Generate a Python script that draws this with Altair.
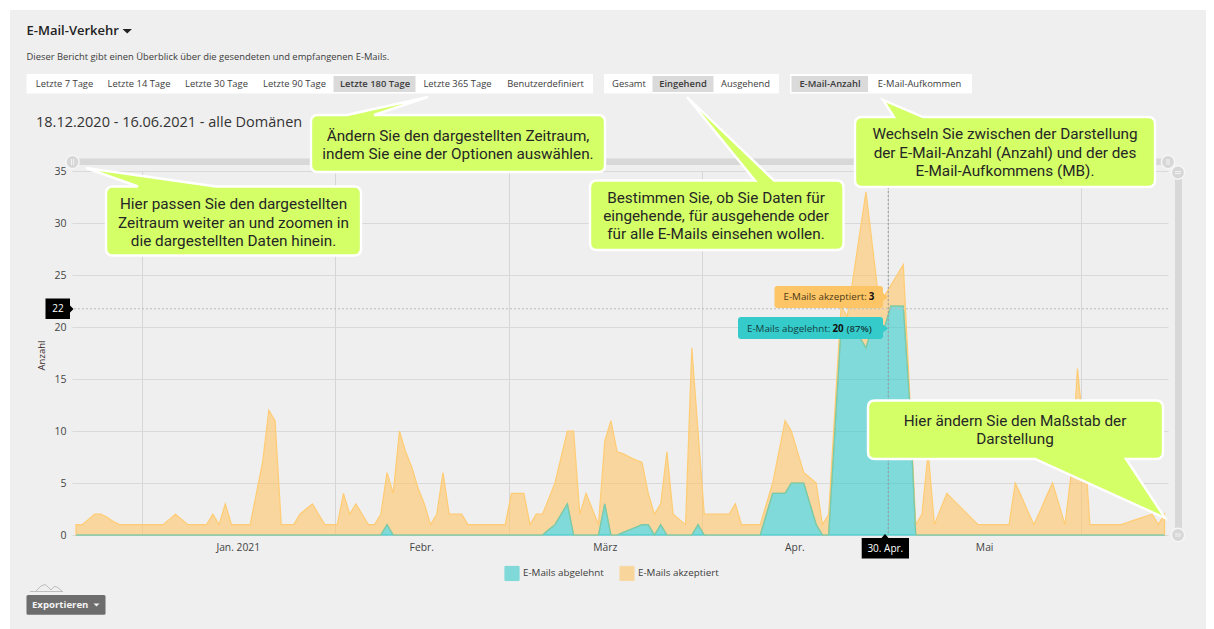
import altair as alt
import pandas as pd

# ---------- chart values ----------
erster_tag = "2020-12-21T10:00:00"
gesamt = [
    1, 1, 1.5, 2, 2, 1.7, 1.3, 1, 1, 1, 1, 1, 1, 1, 1, 1.5, 2, 1.5, 1, 1,
    1, 1, 2, 1, 3, 1, 1, 1, 1, 4, 7, 12, 11, 1, 1, 1, 2, 2.5, 3, 2,
    1, 1, 1, 4, 2, 3, 2, 1, 1, 2, 6, 4, 10, 8, 6.5, 4.5, 3, 1, 2, 6,
    2, 2, 2, 1, 1, 1, 1, 1, 1, 1, 4, 4, 4, 1, 2, 2, 3.5, 5, 7.5, 10,
    10, 2, 4, 2.5, 1, 9, 11, 8, 7.8, 7.5, 7.2, 7, 4, 2, 3, 8, 2, 1.5, 1, 18,
    10, 2, 2, 2, 2, 2, 3, 1, 1, 1, 1, 3, 5, 8, 11, 10, 8, 6, 5.5, 5,
    1, 2, 12, 22, 21, 25, 29, 33, 28, 23, 23, 24, 25, 26, 14, 1, 2, 8, 1, 2.5,
    4, 3.4, 2.8, 2.2, 1.6, 1, 1, 1, 1, 1, 1, 5, 3.7, 2.3, 1, 2.3, 3.7, 5, 3, 1,
    6, 16, 10, 1, 1, 1, 1, 1, 1, 1.2, 1.4, 1.6, 1.8, 2, 1, 2,
]
abgelehnt = [
    0, 0, 0, 0, 0, 0, 0, 0, 0, 0, 0, 0, 0, 0, 0, 0, 0, 0, 0, 0,
    0, 0, 0, 0, 0, 0, 0, 0, 0, 0, 0, 0, 0, 0, 0, 0, 0, 0, 0, 0,
    0, 0, 0, 0, 0, 0, 0, 0, 0, 0, 1, 0, 0, 0, 0, 0, 0, 0, 0, 0,
    0, 0, 0, 0, 0, 0, 0, 0, 0, 0, 0, 0, 0, 0, 0, 0, 0.5, 1, 2, 3,
    0, 0, 0, 0, 0, 3, 0, 0, 0.25, 0.5, 0.75, 1, 1, 0, 1, 0, 0, 0, 0, 0,
    1, 0, 0, 0, 0, 0, 0, 0, 0, 0, 0, 2, 4, 4, 4, 5, 5, 5, 3, 1,
    0, 0, 10, 20, 20, 20, 19, 18, 20, 20, 20, 22, 22, 22, 13, 0, 0, 0, 0, 0,
    0, 0, 0, 0, 0, 0, 0, 0, 0, 0, 0, 0, 0, 0, 0, 0, 0, 0, 0, 0,
    0, 0, 0, 0, 0, 0, 0, 0, 0, 0, 0, 0, 0, 0, 0, 0,
]
serien = ["E-Mails abgelehnt", "E-Mails akzeptiert"]
monate = ["Jan. 2021", "Febr.", "März", "Apr.", "Mai"]
monatsmitten = ["2021-01-16T12:00:00", "2021-02-15T00:00:00", "2021-03-16T12:00:00",
                "2021-04-16T00:00:00", "2021-05-16T12:00:00"]
kreuz_datum = "2021-05-01T00:00:00"
kreuz_wert = 21.75

tage = pd.date_range(erster_tag, periods=len(gesamt), freq="D").strftime("%Y-%m-%dT%H:%M:%S")
akzeptiert = [round(g - a, 2) for g, a in zip(gesamt, abgelehnt)]
df = pd.concat([
    pd.DataFrame({"tag": tage, "wert": abgelehnt, "serie": serien[0], "rang": 1}),
    pd.DataFrame({"tag": tage, "wert": akzeptiert, "serie": serien[1], "rang": 2}),
])
df_abgelehnt = pd.DataFrame({"tag": tage, "wert": abgelehnt})

# ---------- page geometry ----------
OX, OY = 76, 171
W, H = 1092, 364
CANVAS_W, CANVAS_H = 1198, 621
BG = "#EFEFEF"
TEAL, ORANGE = "#36CBCB", "#FDC565"
ORANGE_LINE = "#FFCC73"
LIME = "#D4FF66"
GRID = "#D9D9D9"
UI = "Open Sans"

def gx(x):
    return x - OX

def gy(y):
    return y - OY

def shape(path, fill=None, stroke=None, sw=1.0):
    kw = {"opacity": 1, "filled": fill is not None, "size": 4, "shape": path}
    if fill:
        kw["fill"] = fill
    if stroke:
        kw["stroke"] = stroke
        kw["strokeWidth"] = sw
    return alt.Chart(alt.Data(values=[{}])).mark_point(**kw).encode(x=alt.value(0), y=alt.value(0))

def P(x, y):
    return f"{gx(x):.1f} {gy(y):.1f}"

def box_path(x0, y0, x1, y1, r=0):
    if r == 0:
        return f"M{P(x0,y0)}L{P(x1,y0)}L{P(x1,y1)}L{P(x0,y1)}Z"
    return (f"M{P(x0+r,y0)}L{P(x1-r,y0)}Q{P(x1,y0)} {P(x1,y0+r)}L{P(x1,y1-r)}Q{P(x1,y1)} {P(x1-r,y1)}"
            f"L{P(x0+r,y1)}Q{P(x0,y1)} {P(x0,y1-r)}L{P(x0,y0+r)}Q{P(x0,y0)} {P(x0+r,y0)}Z")

def box(x0, y0, x1, y1, fill, r=0):
    return shape(box_path(x0, y0, x1, y1, r), fill=fill)

def poly(pts, fill=None, stroke=None, sw=1.0, close=True):
    d = "M" + "L".join(P(*p) for p in pts) + ("Z" if close else "")
    return shape(d, fill=fill, stroke=stroke, sw=sw)

def text(s, x, y, size=9.8, weight=400, color="#3C3C3C", font=UI, align="left"):
    return alt.Chart(alt.Data(values=[{}])).mark_text(
        text=s, font=font, fontSize=size, fontWeight=weight, color=color, align=align, baseline="middle"
    ).encode(x=alt.value(gx(x)), y=alt.value(gy(y)))

def dot(x, y, r, fill="#D7D7D7"):
    return alt.Chart(alt.Data(values=[{}])).mark_point(
        shape="circle", filled=True, fill=fill, stroke="#F6F6F6", strokeWidth=1.5, opacity=1, size=3.1416 * r * r
    ).encode(x=alt.value(gx(x)), y=alt.value(gy(y)))

def callout(x0, y0, x1, y1, edge, base0, base1, tip, lines, cx, cy0, size=15.3):
    r = 7
    if edge == "top":
        d = (f"M{P(x0+r,y0)}L{P(base0,y0)}L{P(*tip)}L{P(base1,y0)}L{P(x1-r,y0)}Q{P(x1,y0)} {P(x1,y0+r)}"
             f"L{P(x1,y1-r)}Q{P(x1,y1)} {P(x1-r,y1)}L{P(x0+r,y1)}Q{P(x0,y1)} {P(x0,y1-r)}"
             f"L{P(x0,y0+r)}Q{P(x0,y0)} {P(x0+r,y0)}Z")
    else:
        d = (f"M{P(x0+r,y0)}L{P(x1-r,y0)}Q{P(x1,y0)} {P(x1,y0+r)}L{P(x1,y1-r)}Q{P(x1,y1)} {P(x1-r,y1)}"
             f"L{P(base1,y1)}L{P(*tip)}L{P(base0,y1)}L{P(x0+r,y1)}Q{P(x0,y1)} {P(x0,y1-r)}"
             f"L{P(x0,y0+r)}Q{P(x0,y0)} {P(x0+r,y0)}Z")
    out = [shape(d, fill=LIME, stroke="#FFFFFF", sw=2.4)]
    for i, s in enumerate(lines):
        out.append(text(s, cx, cy0 + 0.8 + i * 18.3, size=size, color="#262626", font="Roboto", align="center"))
    return out

# ---------- data layers ----------
x_scale = alt.Scale(domain=[
    alt.DateTime(year=2020, month=12, date=21, hours=10),
    alt.DateTime(year=2021, month=6, date=14, hours=23, minutes=24),
])
monatsstart = [alt.DateTime(year=2021, month=m, date=1) for m in range(1, 7)]

flaechen = alt.Chart(df).mark_area(
    interpolate="linear", fillOpacity=0.6, strokeWidth=1.2
).encode(
    x=alt.X("tag:T", scale=x_scale, title=None, axis=alt.Axis(
        values=monatsstart, labels=False, ticks=False, domain=False, grid=True, gridColor="#D6D6D6", gridWidth=1)),
    y=alt.Y("wert:Q", stack="zero", scale=alt.Scale(domain=[0, 35], nice=False), title="Anzahl", axis=alt.Axis(
        values=[0, 5, 10, 15, 20, 25, 30, 35], domain=False, grid=True, gridColor=GRID, gridWidth=1,
        tickSize=4, tickColor=GRID, labelFont=UI, labelFontSize=10.5, labelColor="#444444", labelPadding=6,
        titleFont=UI, titleFontSize=9.6, titleFontWeight=400, titleColor="#3A2A2A",
        titleX=gx(46), titleY=gy(355))),
    fill=alt.Fill("serie:N", scale=alt.Scale(domain=serien, range=[TEAL, ORANGE]), legend=alt.Legend(
        title=None, orient="none", legendX=gx(504), legendY=gy(565), direction="horizontal", columns=2,
        symbolType="square", symbolSize=200, symbolOpacity=0.6, columnPadding=13, labelOffset=3,
        labelFont=UI, labelFontSize=9.8, labelColor="#3C3C3C", symbolStrokeWidth=1)),
    stroke=alt.Stroke("serie:N", scale=alt.Scale(domain=serien, range=[TEAL, ORANGE_LINE]), legend=None),
    order=alt.Order("rang:Q", sort="ascending"),
)

teal_linie = alt.Chart(df_abgelehnt).mark_line(
    interpolate="linear", color=TEAL, strokeWidth=1.2, opacity=0.7
).encode(x=alt.X("tag:T", scale=x_scale), y=alt.Y("wert:Q"))

kreuz_v = alt.Chart(pd.DataFrame({"t": [kreuz_datum]})).mark_rule(
    color="#9A9A9A", strokeDash=[2, 2], strokeWidth=1
).encode(x=alt.X("t:T", scale=x_scale))
kreuz_h = alt.Chart(pd.DataFrame({"v": [kreuz_wert]})).mark_rule(
    color="#BCBCBC", strokeDash=[2, 2], strokeWidth=1
).encode(y=alt.Y("v:Q"), x=alt.value(gx(70)), x2=alt.value(W))

monat_text = alt.Chart(pd.DataFrame({"t": monatsmitten, "m": monate})).mark_text(
    font=UI, fontSize=10.3, color="#444444", baseline="middle"
).encode(x=alt.X("t:T", scale=x_scale), y=alt.value(gy(548)), text="m:N")

layers = [flaechen, teal_linie, kreuz_v, kreuz_h, monat_text]

# ---------- zoom sliders ----------
layers += [
    box(78, 158.5, 1162, 165, "#D8D8D8"),
    box(1175, 176, 1182, 530, "#D8D8D8"),
    dot(72.5, 162, 7.5), dot(1168, 162, 7.5), dot(1178, 172.5, 7.5), dot(1178, 535, 7.5),
    poly([(71.5, 159), (71.5, 165)], stroke="#F2F2F2", close=False),
    poly([(73.5, 159), (73.5, 165)], stroke="#F2F2F2", close=False),
    poly([(1167, 159), (1167, 165)], stroke="#F2F2F2", close=False),
    poly([(1169, 159), (1169, 165)], stroke="#F2F2F2", close=False),
    poly([(1175, 171.5), (1181, 171.5)], stroke="#F2F2F2", close=False),
    poly([(1175, 173.5), (1181, 173.5)], stroke="#F2F2F2", close=False),
    poly([(1175, 534), (1181, 534)], stroke="#F2F2F2", close=False),
    poly([(1175, 536), (1181, 536)], stroke="#F2F2F2", close=False),
]

# ---------- header and option bars ----------
layers += [
    text("E-Mail-Verkehr", 26.5, 31, size=13, weight=600, color="#222222"),
    poly([(122.5, 29), (132, 29), (127.2, 33.5)], fill="#222222"),
    text("Dieser Bericht gibt einen Überblick über die gesendeten und empfangenen E-Mails.", 26.5, 57, size=9.4),
    text("18.12.2020 - 16.06.2021 - alle Domänen", 36, 122.5, size=14.5, color="#333333"),
    box(26.5, 74, 593, 93.5, "#FFFFFF"),
    box(333.5, 76, 415.5, 92, "#DADADA"),
    box(604, 74, 779, 93.5, "#FFFFFF"),
    box(652.5, 76, 713.5, 92, "#DADADA"),
    box(790, 74, 972, 93.5, "#FFFFFF"),
    box(791.5, 76, 868, 92, "#DADADA"),
]
for s, cx, w in [("Letzte 7 Tage", 64.5, 400), ("Letzte 14 Tage", 139, 400), ("Letzte 30 Tage", 216.5, 400),
                 ("Letzte 90 Tage", 294.5, 400), ("Letzte 180 Tage", 375, 600), ("Letzte 365 Tage", 457.5, 400),
                 ("Benutzerdefiniert", 545.5, 400), ("Gesamt", 629, 400), ("Eingehend", 683, 600),
                 ("Ausgehend", 745.5, 400), ("E-Mail-Anzahl", 830, 600), ("E-Mail-Aufkommen", 919.5, 400)]:
    layers.append(text(s, cx, 84, size=9.4, weight=w, align="center"))

# ---------- crosshair tags and tooltips ----------
layers += [
    poly([(45.5, 298.5), (70, 298.5), (70, 305.5), (73.5, 309), (70, 312.5), (70, 319), (45.5, 319)], fill="#000000"),
    text("22", 58, 309, size=10, color="#FFFFFF", align="center"),
    poly([(861.7, 538), (881.5, 538), (885, 534), (888.5, 538), (909, 538), (909, 558.5), (861.7, 558.5)], fill="#000000"),
    text("30. Apr.", 885.3, 548.5, size=10, color="#FFFFFF", align="center"),
    shape(box_path(774.5, 286, 883, 308, 3), fill=ORANGE),
    poly([(883, 293), (888, 297), (883, 301)], fill=ORANGE),
    text("E-Mails akzeptiert: ", 783.5, 297, size=9.8, color="#4A3A1A"),
    text("3", 868.7, 297, size=9.8, weight=700, color="#111111"),
    shape(box_path(738, 317, 883, 339, 3), fill=TEAL),
    poly([(883, 324.5), (888, 328.5), (883, 332.5)], fill=TEAL),
    text("E-Mails abgelehnt: ", 747, 328.7, size=9.8, color="#123F3F"),
    text("20", 832.5, 328.7, size=9.8, weight=700, color="#111111"),
    text("(87%)", 846.5, 328.7, size=9.6, weight=600, color="#123F3F"),
]

# ---------- help callouts ----------
layers += callout(106, 186.5, 361, 255.5, "top", 138, 216, (86, 168),
                  ["Hier passen Sie den dargestellten", "Zeitraum weiter an und zoomen in", "die dargestellten Daten hinein."],
                  233.5, 203.5)
layers += callout(311, 115, 605, 172, "top", 347, 374, (428, 97),
                  ["Ändern Sie den dargestellten Zeitraum,", "indem Sie eine der Optionen auswählen."], 458, 135)
layers += callout(590, 180.5, 843.5, 250, "top", 755, 774, (687, 97),
                  ["Bestimmen Sie, ob Sie Daten für", "eingehende, für ausgehende oder", "für alle E-Mails einsehen wollen."],
                  716, 197)
layers += callout(855, 117, 1155, 187, "top", 894, 923, (883, 100),
                  ["Wechseln Sie zwischen der Darstellung", "der E-Mail-Anzahl (Anzahl) und der des", "E-Mail-Aufkommens (MB)."],
                  1005, 133.5)
layers += callout(868, 400.5, 1163, 459, "bottom", 1035, 1126, (1165, 518),
                  ["Hier ändern Sie den Maßstab der", "Darstellung"], 1015, 420)

# ---------- bottom left: range icon and export button ----------
layers += [
    poly([(30, 591.5), (63, 591.5)], stroke="#BDBDBD", close=False),
    poly([(36, 591), (41, 586), (45, 584.5), (48, 587), (51, 590), (54, 586.5), (57, 587), (62, 591)],
         stroke="#BDBDBD", close=False),
    box(26.5, 595, 105.5, 614.7, "#6D6D6D", r=1.5),
    text("Exportieren", 32, 605, size=9.6, weight=700, color="#F4F4F4"),
    poly([(93.5, 603.5), (99.5, 603.5), (96.5, 606.5)], fill="#F4F4F4"),
    # white page strips left of and above the grey panel
    box(8, 8, 10, 640, "#FFFFFF"),
    box(8, 8, 1220, 10, "#FFFFFF"),
]

chart = alt.layer(*layers).properties(
    width=W, height=H,
    background=BG,
    autosize=alt.AutoSizeParams(type="none"),
    padding={"left": OX - 8, "top": OY - 8, "right": CANVAS_W - W - (OX - 8), "bottom": CANVAS_H - H - (OY - 8)},
).configure_view(stroke=None)

chart.save("out.html", embed_options={"renderer": "svg", "actions": False})
